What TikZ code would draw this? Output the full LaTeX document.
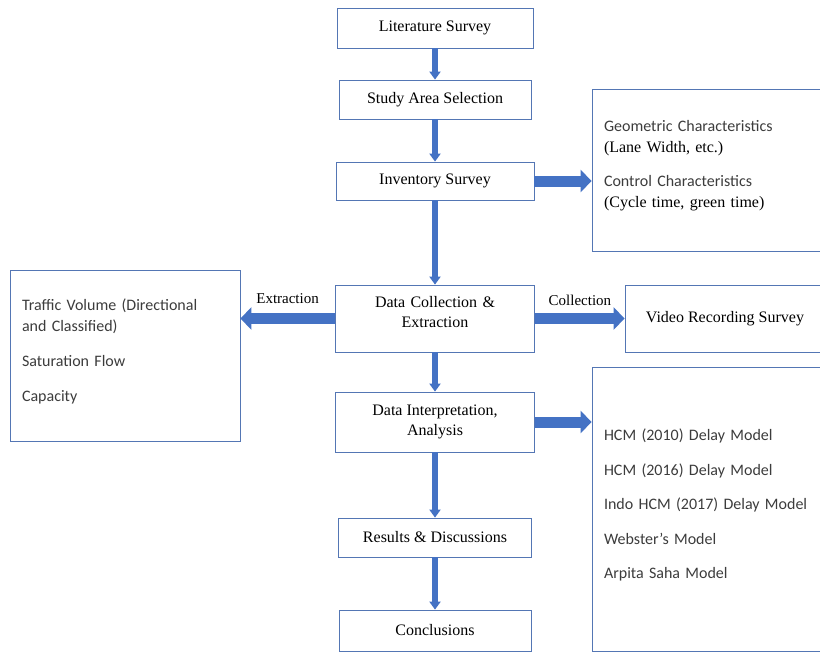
\documentclass[tikz,border=0pt]{standalone}
\usepackage{fontspec}
\setmainfont{Liberation Serif}
\setsansfont{Carlito}
\usetikzlibrary{arrows.meta,positioning}
\definecolor{boxblue}{RGB}{84,118,180}
\definecolor{arrowblue}{RGB}{68,114,196}
\definecolor{greytext}{RGB}{60,60,60}

\begin{document}
\begin{tikzpicture}[x=1pt,y=1pt,on grid,
 stage/.style={draw=boxblue,line width=0.8pt,font=\fontsize{16}{20}\selectfont,align=center},
 side/.style={draw=boxblue,line width=0.8pt,text=greytext,font=\fontsize{16}{21}\selectfont\sffamily,align=left,inner xsep=12pt},
 tag/.style={text=black,font=\fontsize{15}{18}\selectfont},
 down/.style={draw=arrowblue,line width=6pt,-{Triangle[width=11pt,length=8pt]}},
 across/.style={draw=arrowblue,line width=11pt,-{Triangle[width=22pt,length=11pt]}}]
 \useasboundingbox (0,0) rectangle (820,-653);
 % main column
 \node[stage,minimum width=196pt,minimum height=40pt] (lit) at (435,-28) {Literature Survey};
 \node[stage,minimum width=192pt,minimum height=39pt] (study) [below=71.5pt of lit] {Study Area Selection};
 \node[stage,minimum width=198pt,minimum height=38pt] (inv) [below=81.5pt of study] {Inventory Survey};
 \node[stage,text width=193pt,minimum height=67pt] (coll) [below=137.5pt of inv] {Data Collection \&\\Extraction\par\kern13pt};
 \node[stage,minimum width=199pt,minimum height=60pt] (interp) [below=103.5pt of coll] {Data Interpretation,\\Analysis};
 \node[stage,minimum width=193pt,minimum height=39pt] (res) [below=115.5pt of interp] {Results \& Discussions};
 \node[stage,minimum width=192pt,minimum height=41pt] (concl) [below=93pt of res] {Conclusions};
 % side boxes
 \node[side,text width=208pt,minimum height=162pt] (geo) [above right=11pt and 273pt of inv]
  {Geometric Characteristics\\{\rmfamily\color{black}(Lane Width, etc.)}\\[13pt]
   Control Characteristics\\{\rmfamily\color{black}(Cycle time, green time)}\par\kern8pt};
 \node[side,text width=206pt,minimum height=171pt] (vol) [below left=37pt and 310pt of coll]
  {Traffic Volume (Directional\\and Classified)\\[14pt]Saturation Flow\\[14pt]Capacity\par\kern9pt};
 \node[stage,minimum width=200pt,minimum height=67pt] (video) [right=290pt of coll] {Video Recording Survey};
 \node[side,text width=208pt,minimum height=284pt] (models) [below right=87pt and 273pt of interp]
  {HCM (2010) Delay Model\\[13.5pt]HCM (2016) Delay Model\\[13.5pt]Indo HCM (2017) Delay Model\\[13.5pt]
   Webster's Model\\[13.5pt]Arpita Saha Model\par\kern8pt};
 % connectors
 \draw[down] (lit) -- (study);
 \draw[down] (study) -- (inv);
 \draw[down] (inv) -- (coll);
 \draw[down] (coll) -- (interp);
 \draw[down] (interp) -- (res);
 \draw[down] (res) -- (concl);
 \draw[across] (inv) -- (inv -| geo.west);
 \draw[across] (coll) -- node[tag,above=6pt] {Extraction} (coll -| vol.east);
 \draw[across] (coll) -- node[tag,above=4pt] {Collection} (video);
 \draw[across] (interp) -- (interp -| models.west);
\end{tikzpicture}
\end{document}
